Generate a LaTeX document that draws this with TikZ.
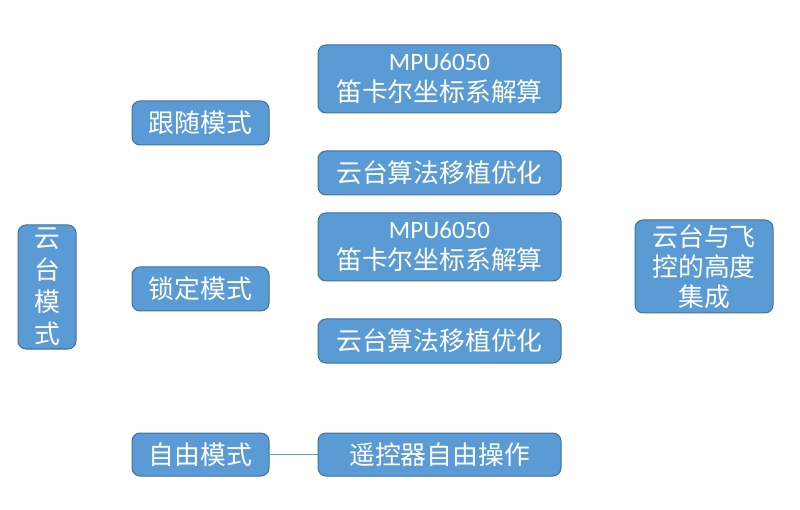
\documentclass[tikz,border=0pt]{standalone}
\usepackage{fontspec}
\setmainfont{Carlito}
\newfontfamily\cjk{Noto Sans CJK SC}
\newfontfamily\carl{Carlito}
\definecolor{boxblue}{HTML}{5B9BD5}
\definecolor{boxedge}{HTML}{41719C}
\begin{document}
\begin{tikzpicture}[x=1pt,y=-1pt,
  blk/.style={draw=boxedge, fill=boxblue, line width=1pt, rounded corners=8pt,
    text=white, inner sep=0pt, align=center,
    font=\cjk\fontsize{25.8}{31}\selectfont},
  link/.style={draw=boxblue, line width=1.3pt}]
\useasboundingbox (0,0) rectangle (800,510);
\node[blk, minimum width=58pt, minimum height=124pt, font=\cjk\fontsize{25.8}{32}\selectfont] (mode) at (47,287) {云\\台\\模\\式};
\node[blk, minimum width=137pt, minimum height=44pt] (follow) at (200.5,123) {跟随模式};
\node[blk, minimum width=137pt, minimum height=44pt] (lock) at (200.5,289) {锁定模式};
\node[blk, minimum width=137pt, minimum height=43pt] (free) at (200.5,454.5) {自由模式};
\node[blk, minimum width=243pt, minimum height=68pt] (mpu1) at (439.5,79) {{\carl\fontsize{25}{31}\selectfont MPU6050}\\笛卡尔坐标系解算};
\node[blk, minimum width=243pt, minimum height=44pt] (alg1) at (439.5,173) {云台算法移植优化};
\node[blk, minimum width=243pt, minimum height=68pt] (mpu2) at (439.5,247) {{\carl\fontsize{25}{31}\selectfont MPU6050}\\笛卡尔坐标系解算};
\node[blk, minimum width=243pt, minimum height=44pt] (alg2) at (439.5,341) {云台算法移植优化};
\node[blk, minimum width=243pt, minimum height=43pt] (rc) at (439.5,454.5) {遥控器自由操作};
\node[blk, minimum width=138pt, minimum height=93pt, font=\cjk\fontsize{25.8}{30}\selectfont] (integ) at (704,266.5) {云台与飞\\控的高度\\集成};
\draw[link] (free.east) -- (rc.west);
\end{tikzpicture}
\end{document}
